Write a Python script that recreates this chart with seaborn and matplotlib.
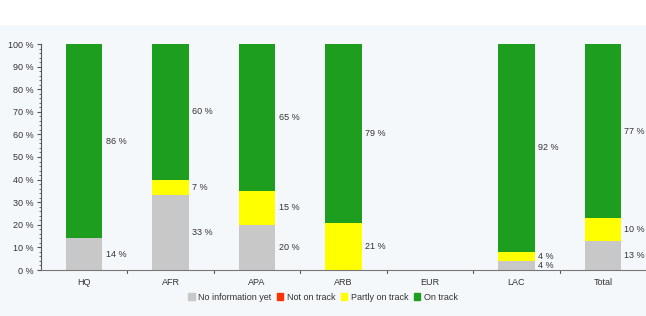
import matplotlib
matplotlib.use("Agg")
import matplotlib.pyplot as plt
import matplotlib.patches as mpatches
import numpy as np
import pandas as pd
import seaborn as sns

categories = ["HQ", "AFR", "APA", "ARB", "EUR", "LAC", "Total"]
no_info = [14, 33, 20, 0, 0, 4, 13]
not_on_track = [0, 0, 0, 0, 0, 0, 0]
partly = [0, 7, 15, 21, 0, 4, 10]
on_track = [86, 60, 65, 79, 0, 92, 77]

series_names = ["No information yet", "Not on track", "Partly on track", "On track"]
series_colors = ["#c8c8c8", "#ff3300", "#ffff00", "#1e9e1e"]

sns.set_style("white")
plt.rcParams["font.family"] = ["Liberation Sans", "DejaVu Sans"]

df = pd.DataFrame({
    "cat": categories,
    "No information yet": no_info,
    "Not on track": not_on_track,
    "Partly on track": partly,
    "On track": on_track,
})
cum = df[series_names].cumsum(axis=1)

fig = plt.figure(figsize=(6.46, 3.16), dpi=100, facecolor="white")
fig.patches.append(mpatches.Rectangle((0, 0), 1, 291 / 316, transform=fig.transFigure,
                                      facecolor="#f5f8fb", edgecolor="none", zorder=-10))
ax = fig.add_axes([41 / 646, 46 / 316, 605 / 646, 226 / 316])
ax.set_facecolor("#f5f8fb")

# draw cumulative heights from the top layer down so each segment shows
for name, color in zip(reversed(series_names), reversed(series_colors)):
    sns.barplot(x=df["cat"], y=cum[name], color=color, width=0.42,
                linewidth=0, saturation=1, ax=ax)

# segment labels to the right of each bar
for i in range(len(categories)):
    base = 0
    for name in series_names:
        v = df[name][i]
        if v > 0:
            y = base + v / 2
            ax.text(i + 0.25, y, f"{v} %", fontsize=6.5, va="center", ha="left", color="#333333")
        base += v
# LAC small values spread slightly apart
ax.set_xlim(-0.5, len(categories) - 0.5)
ax.set_ylim(0, 100)
ax.set_yticks(np.arange(0, 101, 10))
ax.set_yticklabels([f"{t} %" for t in range(0, 101, 10)], fontsize=6.5, color="#333333")
ax.set_yticks(np.arange(0, 101, 2), minor=True)
ax.set_xticks(range(len(categories)))
ax.set_xticklabels(categories, fontsize=6.5, color="#333333")
ax.set_xlabel("")
ax.set_ylabel("")
ax.tick_params(axis="x", length=0, pad=6)
ax.tick_params(axis="y", which="major", length=3, pad=2, left=True, color="#555555")
ax.tick_params(axis="y", which="minor", length=1.5, left=True, color="#555555")
for x in np.arange(0.5, len(categories) - 0.5, 1):
    ax.plot([x, x], [0, -1.2], color="#555555", lw=0.8, clip_on=False)

for s in ["top", "right"]:
    ax.spines[s].set_visible(False)
ax.spines["left"].set_color("#555555")
ax.spines["bottom"].set_color("#777777")
ax.spines["left"].set_linewidth(0.8)
ax.spines["bottom"].set_linewidth(0.8)

handles = [mpatches.Patch(color=c, label=n) for n, c in zip(series_names, series_colors)]
fig.legend(handles=handles, loc="center", bbox_to_anchor=(0.5, 19 / 316), ncol=4,
           frameon=False, fontsize=6.5, handlelength=0.7, handleheight=0.7,
           handletextpad=0.4, columnspacing=0.6, labelcolor="#333333")

fig.savefig("out.png", dpi=100, facecolor="white")
